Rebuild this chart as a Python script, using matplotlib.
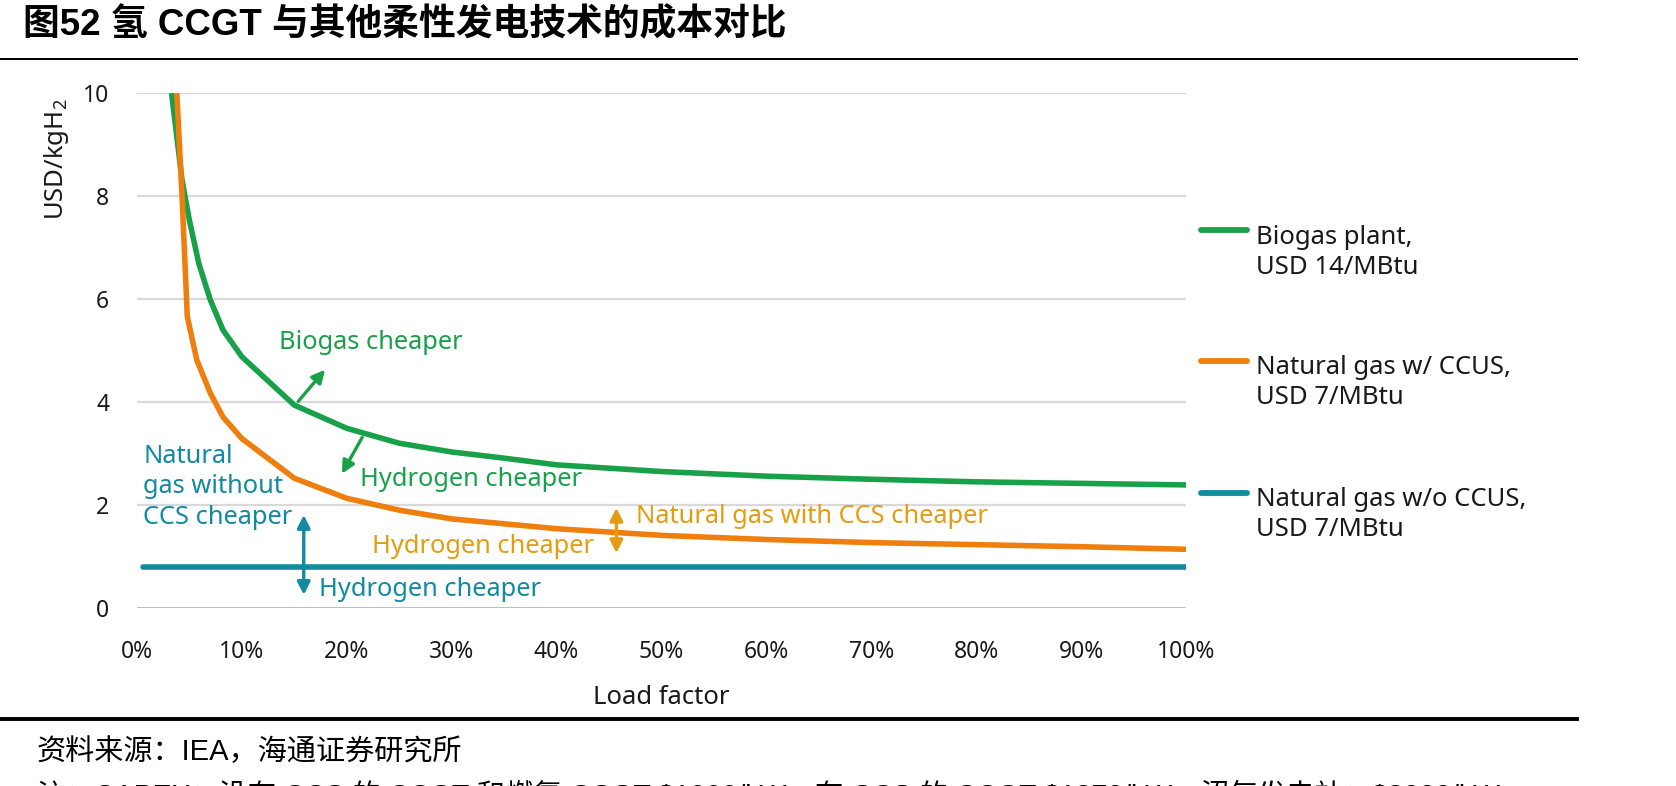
import matplotlib
matplotlib.use("Agg")
import matplotlib.pyplot as plt
from matplotlib.lines import Line2D

plt.rcParams['font.family'] = ['Noto Sans', 'Noto Sans CJK SC', 'DejaVu Sans']
plt.rcParams['mathtext.fontset'] = 'custom'
plt.rcParams['mathtext.rm'] = 'Noto Sans'

# data (load factor in %, cost in USD/kgH2)
load_biogas = [3.3, 4.3, 5.0, 5.9, 7.0, 8.2, 10, 15, 20, 25, 30, 35, 40, 50, 60, 70, 80, 90, 100]
cost_biogas = [10.0, 8.31, 7.53, 6.69, 5.98, 5.40, 4.88, 3.94, 3.49, 3.20, 3.03, 2.91, 2.78, 2.65, 2.56, 2.50, 2.45, 2.42, 2.39]

load_ccus = [3.8, 4.3, 4.8, 5.7, 7.0, 8.2, 10, 15, 20, 25, 30, 40, 50, 60, 70, 80, 90, 100]
cost_ccus = [10.0, 8.0, 5.66, 4.82, 4.17, 3.71, 3.29, 2.52, 2.13, 1.90, 1.73, 1.54, 1.41, 1.33, 1.27, 1.23, 1.19, 1.14]

load_noccs = [0.6, 10, 20, 30, 40, 50, 60, 70, 80, 90, 100]
cost_noccs = [0.8, 0.8, 0.8, 0.8, 0.8, 0.8, 0.8, 0.8, 0.8, 0.8, 0.8]

x_ticks = [0, 10, 20, 30, 40, 50, 60, 70, 80, 90, 100]
x_ticklabels = ['0%', '10%', '20%', '30%', '40%', '50%', '60%', '70%', '80%', '90%', '100%']
y_ticks = [0, 2, 4, 6, 8, 10]

legend_labels = ['Biogas plant,\nUSD 14/MBtu',
                 'Natural gas w/ CCUS,\nUSD 7/MBtu',
                 'Natural gas w/o CCUS,\nUSD 7/MBtu']

title = '图52 氢 CCGT 与其他柔性发电技术的成本对比'
source = '资料来源：IEA，海通证券研究所'
note = '注：CAPEX：没有 CCS 的 CCGT 和燃氢 CCGT $1000/kW，有 CCS 的 CCGT $1870/kW，沼气发电站：$3000/kW'

GREEN = '#19A14A'
ORANGE = '#EE7F0E'
TEAL = '#118AA2'
AMBER = '#E49C12'
TXT = '#1a1a1a'

fig = plt.figure(figsize=(16.76, 7.86), dpi=100)
ax = fig.add_axes([0.0817, 0.2265, 0.626, 0.655])

for y in y_ticks[1:]:
    ax.axhline(y, color='#D9D9D9', lw=1.6, zorder=1)
ax.axhline(0, color='#BFBFBF', lw=2.2, zorder=1)

ax.plot(load_biogas, cost_biogas, color=GREEN, lw=4.0, solid_capstyle='butt', solid_joinstyle='round', zorder=3)
ax.plot(load_ccus, cost_ccus, color=ORANGE, lw=4.0, solid_capstyle='butt', solid_joinstyle='round', zorder=3)
ax.plot(load_noccs, cost_noccs, color=TEAL, lw=4.0, solid_capstyle='round', zorder=3)

ax.set_xlim(0, 100)
ax.set_ylim(0, 10)
ax.set_xticks(x_ticks)
ax.set_xticklabels(x_ticklabels)
ax.set_yticks(y_ticks)
ax.tick_params(length=0, labelsize=16.5, colors=TXT)
ax.tick_params(axis='x', pad=23)
ax.tick_params(axis='y', pad=20)
for s in ax.spines.values():
    s.set_visible(False)
ax.set_xlabel('Load factor', fontsize=18.5, color=TXT, labelpad=15)

fig.text(0.0335, 0.797, r'USD/kgH$_\mathrm{2}$', rotation=90, ha='center', va='center',
         fontsize=18.5, color=TXT)

# annotations
fs = 18.3
ax.text(13.5, 5.15, 'Biogas cheaper', color=GREEN, fontsize=fs, va='center')
ax.annotate('', xy=(18.1, 4.67), xytext=(15.2, 3.97),
            arrowprops=dict(arrowstyle='-|>', color=GREEN, lw=2.4, mutation_scale=19))
ax.annotate('', xy=(19.4, 2.56), xytext=(21.6, 3.36),
            arrowprops=dict(arrowstyle='-|>', color=GREEN, lw=2.4, mutation_scale=19))
ax.text(21.3, 2.49, 'Hydrogen cheaper', color=GREEN, fontsize=fs, va='center')

ax.text(0.6, 2.35, 'Natural\ngas without\nCCS cheaper', color=TEAL, fontsize=fs,
        va='center', linespacing=1.3)
ax.annotate('', xy=(15.9, 1.86), xytext=(15.9, 0.2),
            arrowprops=dict(arrowstyle='<|-|>', color=TEAL, lw=2.4, mutation_scale=19))
ax.text(17.4, 0.35, 'Hydrogen cheaper', color=TEAL, fontsize=fs, va='center')

ax.text(22.4, 1.19, 'Hydrogen cheaper', color=AMBER, fontsize=fs, va='center')
ax.annotate('', xy=(45.7, 2.0), xytext=(45.7, 1.01),
            arrowprops=dict(arrowstyle='<|-|>', color=AMBER, lw=2.4, mutation_scale=19))
ax.text(47.6, 1.78, 'Natural gas with CCS cheaper', color=AMBER, fontsize=fs, va='center')

# legend drawn by hand on the right
legend_colors = [GREEN, ORANGE, TEAL]
legend_y = [0.707, 0.541, 0.373]
for lab, col, ly in zip(legend_labels, legend_colors, legend_y):
    fig.add_artist(Line2D([0.7165, 0.744], [ly, ly], color=col, lw=4.2,
                          solid_capstyle='round', transform=fig.transFigure))
    fig.text(0.7495, ly + 0.007, lab, fontsize=18.5, color=TXT, va='top',
             linespacing=1.25, transform=fig.transFigure)

# title, rules and footnotes
cjk = ['Liberation Sans', 'Noto Sans CJK SC']
fig.text(0.014, 0.967, title, fontsize=26.5, fontweight='bold', va='center', family=cjk)
fig.add_artist(Line2D([0, 0.941], [0.925, 0.925], color='black', lw=1.4, transform=fig.transFigure))
fig.add_artist(Line2D([0, 0.941], [0.0855, 0.0855], color='black', lw=2.8, transform=fig.transFigure))
fig.text(0.022, 0.043, source, fontsize=21, va='center', family=cjk)
fig.text(0.022, -0.012, note, fontsize=20.5, va='center', family=cjk)

fig.savefig('out.png', dpi=100)
